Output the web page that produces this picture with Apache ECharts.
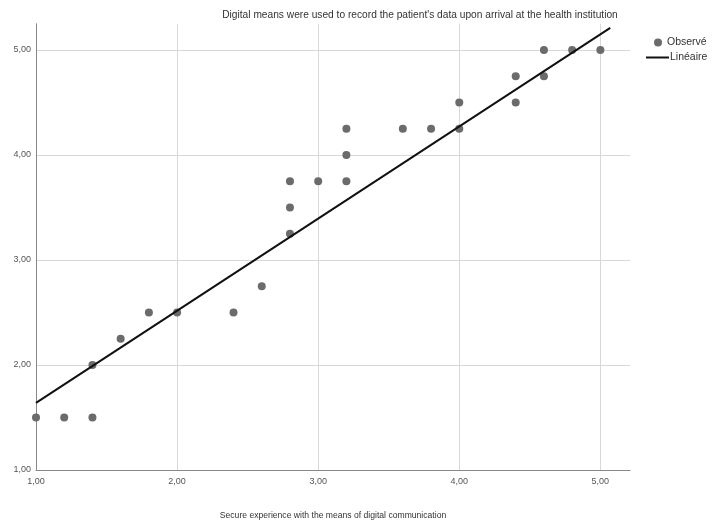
<!DOCTYPE html>
<html><head><meta charset="utf-8">
<script src="https://cdn.jsdelivr.net/npm/echarts@6/dist/echarts.min.js"></script>
<style>html,body{margin:0;padding:0;background:#fff}#c{width:722px;height:522px}</style>
</head><body><div id="c"></div>
<script>
const titleText = "Digital means were used to record the patient's data upon arrival at the health institution";
const xName = "Secure experience with the means of digital communication";
const obsName = "Observé";
const fitName = "Linéaire";
const obsX = [1.0,1.2,1.4,1.4,1.6,1.8,2.0,2.4,2.6,2.8,2.8,2.8,3.0,3.2,3.2,3.2,3.6,3.8,4.0,4.0,4.4,4.4,4.6,4.6,4.8,5.0];
const obsY = [1.5,1.5,1.5,2.0,2.25,2.5,2.5,2.5,2.75,3.25,3.5,3.75,3.75,3.75,4.0,4.25,4.25,4.25,4.25,4.5,4.5,4.75,4.75,5.0,5.0,5.0];
const fitX = [1.0, 5.07];
const fitY = [1.64, 5.21];
const ticks = [1,2,3,4,5];

const fmt = v => v.toFixed(2).replace('.', ',');
const chart = echarts.init(document.getElementById('c'));
chart.setOption({
  animation:false,
  backgroundColor:'#fff',
  title:{text:titleText,left:415,textAlign:'center',top:5,textStyle:{fontSize:10.2,fontWeight:'normal',color:'#333',fontFamily:'Liberation Sans'}},
  legend:[
    {data:[{name:obsName,icon:'circle'}],left:649,top:32,itemWidth:8,itemHeight:8,itemGap:4,textStyle:{fontSize:10.5,color:'#333',fontFamily:'Liberation Sans'}},
    {data:[{name:fitName,icon:'rect'}],left:641,top:47,itemWidth:23,itemHeight:2,itemGap:2,textStyle:{fontSize:10.5,color:'#333',fontFamily:'Liberation Sans',padding:[0,0,0,-4]}}
  ],
  grid:{left:36,right:92,top:23.75,bottom:52,outerBoundsMode:'none',containLabel:false},
  xAxis:{type:'value',min:1,max:5.21,interval:1,name:xName,nameLocation:'middle',nameGap:41,
    nameTextStyle:{fontSize:8.6,color:'#333',fontFamily:'Liberation Sans'},
    axisLine:{lineStyle:{color:'#888',width:1}},axisTick:{show:false},
    axisLabel:{fontSize:9,color:'#555',fontFamily:'Liberation Sans',margin:7,formatter:v=>ticks.includes(v)?fmt(v):''},
    splitLine:{show:true,showMaxLine:false,lineStyle:{color:'#d8d8d8'}}},
  yAxis:{type:'value',min:1,max:5.25,interval:1,
    axisLine:{show:true,lineStyle:{color:'#888',width:1}},axisTick:{show:false},
    axisLabel:{fontSize:9,color:'#555',fontFamily:'Liberation Sans',margin:5,formatter:v=>ticks.includes(v)?fmt(v):''},
    splitLine:{show:true,showMaxLine:false,lineStyle:{color:'#d8d8d8'}}},
  series:[
    {name:obsName,type:'scatter',data:obsX.map((x,i)=>[x,obsY[i]]),symbolSize:8,itemStyle:{color:'#6b6b6b',opacity:1},z:2},
    {name:fitName,type:'line',data:fitX.map((x,i)=>[x,fitY[i]]),showSymbol:false,symbol:'none',lineStyle:{color:'#111',width:2},itemStyle:{color:'#111'},z:3}
  ]
});
</script></body></html>
